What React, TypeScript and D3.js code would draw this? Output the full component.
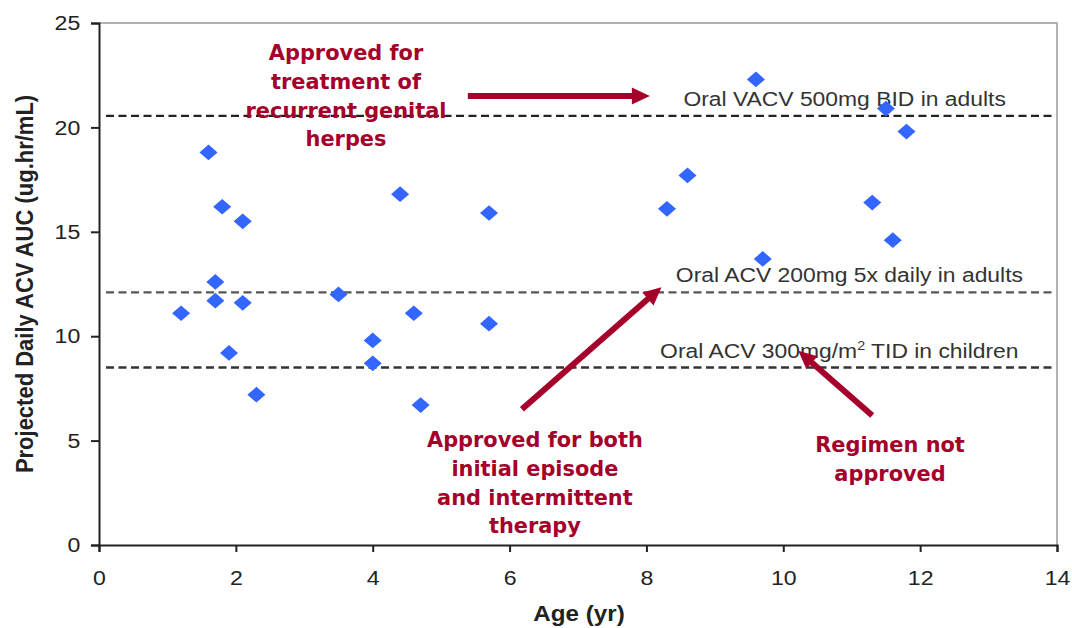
import React, { useEffect, useRef } from 'react';
import * as d3 from 'd3';

// patient data: age (yr) vs projected daily ACV AUC
const ages = [1.2, 1.6, 1.7, 1.7, 1.8, 1.9, 2.1, 2.1, 2.3, 3.5, 4.0, 4.0, 4.4, 4.6, 4.7, 5.7, 5.7, 8.3, 8.6, 9.6, 9.7, 11.3, 11.5, 11.6, 11.8];
const aucs = [11.1, 18.8, 12.6, 11.7, 16.2, 9.2, 15.5, 11.6, 7.2, 12.0, 9.8, 8.7, 16.8, 11.1, 6.7, 15.9, 10.6, 16.1, 17.7, 22.3, 13.7, 16.4, 20.9, 14.6, 19.8];

// reference regimens
const refValues = [20.55, 12.1, 8.5];
const refLabels = ['Oral VACV 500mg BID in adults', 'Oral ACV 200mg 5x daily in adults', 'Oral ACV 300mg/m|2| TID in children'];
const refLabelX = [8.54, 8.43, 8.2];
const refColors = ['#222', '#555', '#333'];

const xTicks = [0, 2, 4, 6, 8, 10, 12, 14];
const yTicks = [0, 5, 10, 15, 20, 25];

// callouts, positions in data units
const notes = [
  { lines: ['Approved for', 'treatment of', 'recurrent genital', 'herpes'], x: 3.61, y: 23.23 },
  { lines: ['Approved for both', 'initial episode', 'and intermittent', 'therapy'], x: 6.37, y: 4.69 },
  { lines: ['Regimen not', 'approved'], x: 11.56, y: 4.45 },
];
const arrows = [
  { from: [5.39, 21.5], to: [8.05, 21.5] },
  { from: [6.18, 6.5], to: [8.22, 12.35] },
  { from: [11.3, 6.2], to: [10.22, 9.3] },
];

const W = 1072;
const H = 628;
const M = { top: 23, right: 15, bottom: 83, left: 99 };
const RED = '#A5002A';
const SX = 1.1; // the original picture is a little wider than tall
const SANS = 'Liberation Sans, Arial, sans-serif';

const App: React.FC = () => {
  const svgRef = useRef<SVGSVGElement>(null);

  useEffect(() => {
    if (!svgRef.current) return;
    const svg = d3.select(svgRef.current);
    svg.selectAll('*').remove();

    const x = d3.scaleLinear().domain([0, 14]).range([M.left, W - M.right]);
    const y = d3.scaleLinear().domain([0, 25]).range([H - M.bottom, M.top]);

    // frame (top/right in grey)
    svg.append('path')
      .attr('d', `M${x(0)},${y(25)}H${x(14)}V${y(0)}`)
      .attr('fill', 'none').attr('stroke', '#999').attr('stroke-width', 1.5);

    // reference lines
    refValues.forEach((v, i) => {
      svg.append('line')
        .attr('x1', x(0) + 7).attr('x2', x(14) - 4)
        .attr('y1', y(v)).attr('y2', y(v))
        .attr('stroke', refColors[i])
        .attr('stroke-width', 2.3)
        .attr('stroke-dasharray', '8,4.5');
      const parts = refLabels[i].split('|');
      const t = svg.append('text')
        .attr('transform', `translate(${x(refLabelX[i])},${y(v) - 10}) scale(${SX},1)`)
        .attr('font-family', SANS)
        .attr('font-size', 20.8).attr('fill', '#333');
      t.append('tspan').text(parts[0]);
      if (parts.length > 1) {
        t.append('tspan').attr('dy', -8).attr('font-size', 13).text(parts[1]);
        t.append('tspan').attr('dy', 8).text(parts[2]);
      }
    });

    // axes
    const xAxis = svg.append('g')
      .attr('transform', `translate(0,${y(0)})`)
      .call(d3.axisBottom(x).tickValues(xTicks).tickSize(7).tickPadding(18));
    const yAxis = svg.append('g')
      .attr('transform', `translate(${x(0)},0)`)
      .call(d3.axisLeft(y).tickValues(yTicks).tickSize(8).tickPadding(9));
    [xAxis, yAxis].forEach(g => {
      g.select('.domain').attr('stroke', '#222').attr('stroke-width', 2);
      g.selectAll('.tick line').attr('stroke', '#222').attr('stroke-width', 2);
      g.selectAll('.tick text')
        .attr('transform', `scale(${SX},1)`)
        .attr('font-family', SANS)
        .attr('font-size', 21).attr('fill', '#222');
    });

    // points
    const diamond = d3.symbol().type(d3.symbolSquare).size(123);
    svg.append('g').selectAll('path')
      .data(ages.map((a, i) => [a, aucs[i]]))
      .join('path')
      .attr('d', diamond)
      .attr('transform', d => `translate(${x(d[0])},${y(d[1])}) scale(1.15,1) rotate(45)`)
      .attr('fill', '#3366FF');

    // axis titles
    svg.append('text')
      .attr('transform', `translate(33,${(y(0) + y(25)) / 2}) scale(${SX},1) rotate(-90)`)
      .attr('text-anchor', 'middle')
      .attr('font-family', SANS)
      .attr('font-weight', 'bold').attr('font-size', 22).attr('fill', '#222')
      .text('Projected Daily ACV AUC (ug.hr/mL)');
    svg.append('text')
      .attr('transform', `translate(579,621) scale(${SX},1)`)
      .attr('text-anchor', 'middle')
      .attr('font-family', SANS)
      .attr('font-weight', 'bold').attr('font-size', 22).attr('fill', '#222')
      .text('Age (yr)');

    // callout arrows: shaft + triangular head
    const headLen = 18;
    const headHalf = 8.5;
    arrows.forEach(a => {
      const x1 = x(a.from[0]), y1 = y(a.from[1]);
      const x2 = x(a.to[0]), y2 = y(a.to[1]);
      const len = Math.hypot(x2 - x1, y2 - y1);
      const ux = (x2 - x1) / len, uy = (y2 - y1) / len;
      const bx = x2 - ux * headLen, by = y2 - uy * headLen;
      svg.append('line')
        .attr('x1', x1).attr('y1', y1)
        .attr('x2', bx + ux).attr('y2', by + uy)
        .attr('stroke', RED).attr('stroke-width', 6);
      svg.append('path')
        .attr('d', `M${x2},${y2}L${bx - uy * headHalf},${by + ux * headHalf}L${bx + uy * headHalf},${by - ux * headHalf}Z`)
        .attr('fill', RED);
    });

    notes.forEach(n => {
      const t = svg.append('text')
        .attr('transform', `translate(${x(n.x)},${y(n.y)}) scale(0.95,1)`)
        .attr('text-anchor', 'middle')
        .attr('font-family', 'DejaVu Sans, Verdana, sans-serif')
        .attr('font-weight', 'bold').attr('font-size', 22).attr('fill', RED);
      n.lines.forEach((l, i) => {
        t.append('tspan').attr('x', 0).attr('y', i * 28.8).text(l);
      });
    });
  }, []);

  return <svg ref={svgRef} width={W} height={H} style={{ display: 'block', position: 'absolute', left: 0, top: 0, background: '#fff' }} />;
};

export default App;
